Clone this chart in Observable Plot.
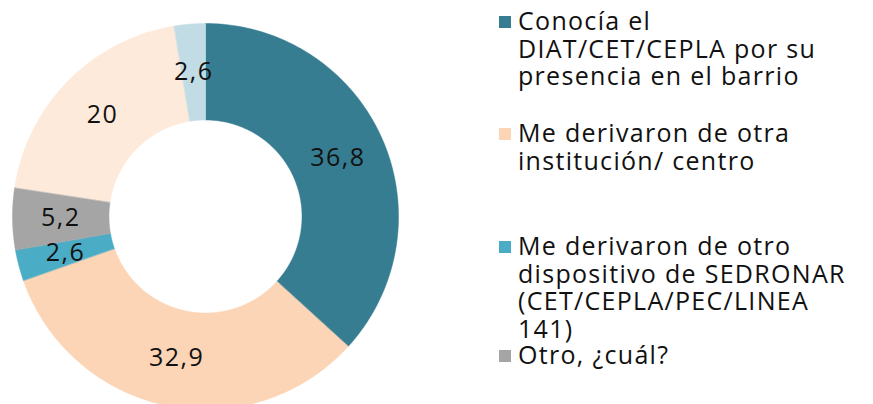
<!DOCTYPE html>
<html>
<head>
<meta charset="utf-8">
<script src="https://cdn.jsdelivr.net/npm/d3@7"></script>
<script src="https://cdn.jsdelivr.net/npm/@observablehq/plot@0.6"></script>
<style>
  html, body { margin: 0; padding: 0; background: #fff; }
  #wrap { display: flex; flex-direction: row; width: 873px; height: 404px; overflow: hidden; font-family: "Open Sans", sans-serif; }
  #chart { width: 490px; height: 404px; }
  #chart text { letter-spacing: 1.5px; }
  #legend { position: relative; width: 383px; height: 404px; color: #111; font-size: 25px; letter-spacing: 1.3px; }
  .item { position: absolute; left: 28px; line-height: 27.5px; white-space: nowrap; }
  .sw { position: absolute; left: -19px; top: 9px; width: 12px; height: 12px; }
</style>
</head>
<body>
<div id="wrap"><div id="chart"></div><div id="legend"></div></div>
<script>
const categories = [
  "Conocía el DIAT/CET/CEPLA por su presencia en el barrio",
  "Me derivaron de otra institución/ centro",
  "Me derivaron de otro dispositivo de SEDRONAR (CET/CEPLA/PEC/LINEA 141)",
  "Otro, ¿cuál?",
  "Sin dato A",
  "Sin dato B"
];
const values = [36.8, 32.9, 2.6, 5.2, 20, 2.6];
const labels = ["36,8", "32,9", "2,6", "5,2", "20", "2,6"];
const colors = ["#367D91", "#FBD5B5", "#4BACC6", "#A5A5A5", "#FDEADA", "#C1DCE5"];
const legendLines = [
  ["Conocía el", "DIAT/CET/CEPLA por su", "presencia en el barrio"],
  ["Me derivaron de otra", "institución/ centro"],
  ["Me derivaron de otro", "dispositivo de SEDRONAR", "(CET/CEPLA/PEC/LINEA", "141)"],
  ["Otro, ¿cuál?"]
];

const inner = 0.5, outer = 1;
const pie = d3.pie().sort(null).value(d => d.value);
const arcs = pie(categories.map((c, i) => ({cat: c, value: values[i], label: labels[i]})));

const poly = [];
arcs.forEach(a => {
  const n = Math.max(2, Math.ceil((a.endAngle - a.startAngle) / 0.01));
  for (let k = 0; k <= n; k++) {
    const t = a.startAngle + (a.endAngle - a.startAngle) * k / n;
    poly.push({cat: a.data.cat, x: outer * Math.sin(t), y: outer * Math.cos(t)});
  }
  for (let k = n; k >= 0; k--) {
    const t = a.startAngle + (a.endAngle - a.startAngle) * k / n;
    poly.push({cat: a.data.cat, x: inner * Math.sin(t), y: inner * Math.cos(t)});
  }
});
const lab = arcs.map(a => {
  const m = (a.startAngle + a.endAngle) / 2, r = (inner + outer) / 2;
  return {label: a.data.label, x: r * Math.sin(m), y: r * Math.cos(m)};
});

const chart = Plot.plot({
  width: 490,
  height: 404,
  margin: 0,
  x: {domain: [-1, 1], range: [12, 398], axis: null},
  y: {domain: [-1, 1], range: [409, 23], axis: null},
  color: {domain: categories, range: colors},
  style: {fontFamily: "Open Sans, sans-serif", background: "#fff"},
  marks: [
    Plot.line(poly, {x: "x", y: "y", z: "cat", fill: "cat", stroke: "cat", strokeWidth: 0.5, curve: "linear-closed"}),
    Plot.text(lab, {x: "x", y: "y", text: "label", fontSize: 25, fill: "#111"})
  ]
});
document.getElementById("chart").appendChild(chart);

const tops = [7, 119, 232, 341];
const leg = document.getElementById("legend");
legendLines.forEach((lines, i) => {
  const div = document.createElement("div");
  div.className = "item";
  div.style.top = tops[i] + "px";
  const sw = document.createElement("span");
  sw.className = "sw";
  sw.style.background = colors[i];
  div.appendChild(sw);
  lines.forEach((l, j) => {
    if (j) div.appendChild(document.createElement("br"));
    div.appendChild(document.createTextNode(l));
  });
  leg.appendChild(div);
});
</script>
</body>
</html>
